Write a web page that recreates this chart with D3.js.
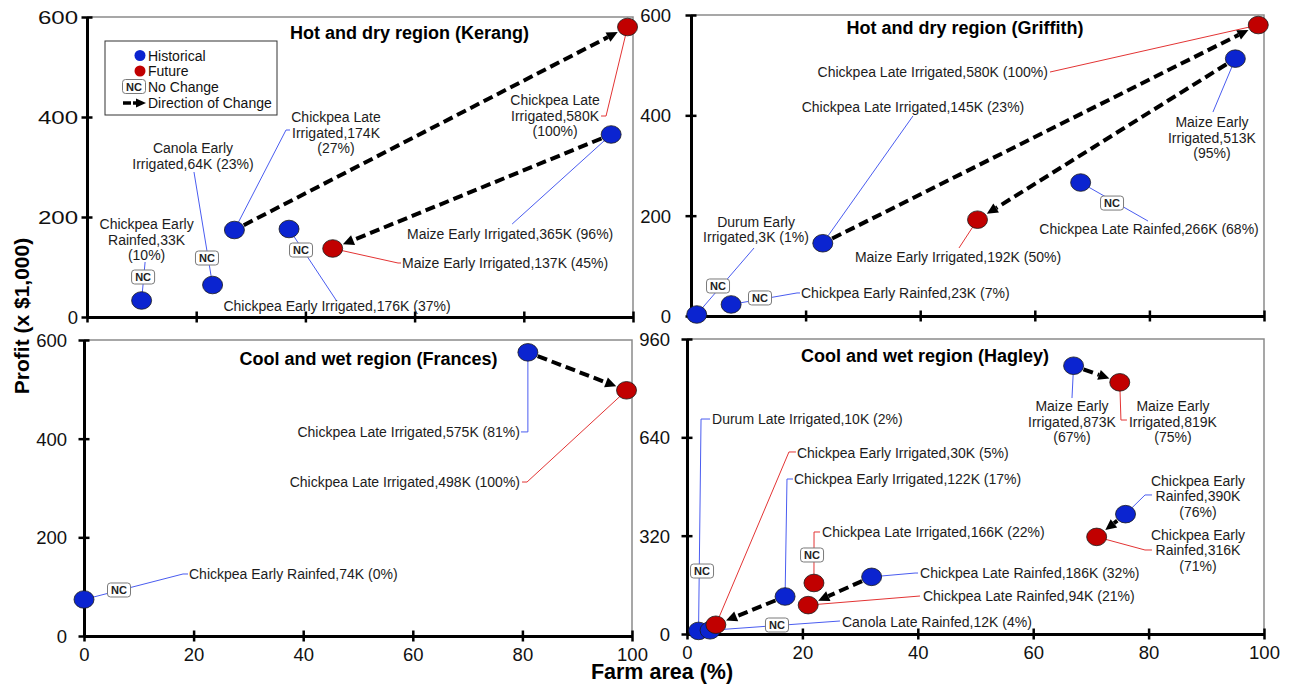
<!DOCTYPE html>
<html><head><meta charset="utf-8">
<script src="https://cdn.jsdelivr.net/npm/d3@7"></script>
<style>
body{margin:0;background:#fff}
svg{display:block}
text{font-family:"Liberation Sans",Arial,Helvetica,sans-serif}
</style>
</head><body>
<svg id="chart" width="1295" height="685"></svg>
<script>
// ---------- data ----------
const xTicks = [0, 20, 40, 60, 80, 100];
const yTicks600 = [0, 200, 400, 600];
const yTicks960 = [0, 320, 640, 960];
const titles = ["Hot and dry region (Kerang)", "Hot and dry region (Griffith)",
                "Cool and wet region (Frances)", "Cool and wet region (Hagley)"];
const legendItems = ["Historical", "Future", "No Change", "Direction of Change"];
const axisTitles = ["Farm area (%)", "Profit (x $1,000)"];

// profit in $1,000 (K), area in % of farm; plotArea = where the marker sits when it differs
const kerang = [
  {crop:"Chickpea Early Rainfed",  profit:33,  area:10, period:"Historical", nc:true},
  {crop:"Canola Early Irrigated",  profit:64,  area:23, period:"Historical", nc:true},
  {crop:"Chickpea Late Irrigated", profit:174, area:27, period:"Historical"},
  {crop:"Chickpea Early Irrigated",profit:176, area:37, period:"Historical", nc:true},
  {crop:"Maize Early Irrigated",   profit:137, area:45, period:"Future"},
  {crop:"Maize Early Irrigated",   profit:365, area:96, period:"Historical"},
  {crop:"Chickpea Late Irrigated", profit:580, area:100, plotArea:99, period:"Future"}
];
const kerangArrows = [[2,6],[5,4]];

const griffith = [
  {crop:"Durum Early Irrigated",   profit:3,   area:1,  period:"Historical", nc:true},
  {crop:"Chickpea Early Rainfed",  profit:23,  area:7,  period:"Historical", nc:true},
  {crop:"Chickpea Late Irrigated", profit:145, area:23, period:"Historical"},
  {crop:"Chickpea Late Irrigated", profit:580, area:100, plotArea:99, period:"Future"},
  {crop:"Maize Early Irrigated",   profit:513, area:95, period:"Historical"},
  {crop:"Maize Early Irrigated",   profit:192, area:50, period:"Future"},
  {crop:"Chickpea Late Rainfed",   profit:266, area:68, period:"Historical", nc:true}
];
const griffithArrows = [[2,3],[4,5]];

const frances = [
  {crop:"Chickpea Early Rainfed",  profit:74,  area:0,  period:"Historical", nc:true},
  {crop:"Chickpea Late Irrigated", profit:575, area:81, period:"Historical"},
  {crop:"Chickpea Late Irrigated", profit:498, area:100, plotArea:99, period:"Future"}
];
const francesArrows = [[1,2]];

const hagley = [
  {crop:"Durum Late Irrigated",    profit:10,  area:2,  period:"Historical", nc:true},
  {crop:"Canola Late Rainfed",     profit:12,  area:4,  period:"Historical", nc:true},
  {crop:"Chickpea Early Irrigated",profit:30,  area:5,  period:"Future"},
  {crop:"Chickpea Early Irrigated",profit:122, area:17, period:"Historical"},
  {crop:"Chickpea Late Irrigated", profit:166, area:22, period:"Future", nc:true},
  {crop:"Chickpea Late Rainfed",   profit:186, area:32, period:"Historical"},
  {crop:"Chickpea Late Rainfed",   profit:94,  area:21, period:"Future"},
  {crop:"Maize Early Irrigated",   profit:873, area:67, period:"Historical"},
  {crop:"Maize Early Irrigated",   profit:819, area:75, period:"Future"},
  {crop:"Chickpea Early Rainfed",  profit:390, area:76, period:"Historical"},
  {crop:"Chickpea Early Rainfed",  profit:316, area:71, period:"Future"}
];
const hagleyArrows = [[3,2],[5,6],[7,8],[9,10]];

// ---------- layout (pixel offsets of annotations relative to their marker) ----------
const kerangLayout = [
  {lines:3, anchor:"middle", at:[5,-71.5],   lead:[[3.5,-38.5]], nc:[1.5,-23.5]},
  {lines:2, anchor:"middle", at:[-19.6,-132],lead:[[-18.6,-113]], nc:[-5.6,-27]},
  {lines:3, anchor:"middle", at:[101.6,-108],lead:[[51.6,-100],[55.6,-100]]},
  {lines:1, anchor:"middle", at:[48,82],     lead:[[47,71]], nc:[12,21]},
  {lines:1, anchor:"start",  at:[69.3,19.5], lead:[[65.3,14.5],[68.3,14.5]]},
  {lines:1, anchor:"middle", at:[-101,104.5],lead:[[-99,89.5]]},
  {lines:3, anchor:"middle", at:[-72.5,78],  lead:[[-21.5,89],[-26.5,89]]}
];
const griffithLayout = [
  {lines:2, anchor:"middle", at:[59.3,-87.5], lead:[[57.3,-66.5]], nc:[21.3,-28.5]},
  {lines:1, anchor:"start",  at:[69.9,-6.5],  lead:[[65.9,-11.5],[68.9,-11.5]], nc:[28.9,-6.5]},
  {lines:1, anchor:"middle", at:[90.2,-131.3],lead:[[90.2,-127.3]]},
  {lines:1, anchor:"end",    at:[-210.3,52],  lead:[[-208.3,47]]},
  {lines:3, anchor:"middle", at:[-23.4,68.4], lead:[[-22.4,53.4]]},
  {lines:1, anchor:"middle", at:[-19.5,42.3], lead:[[-18.5,28.3]]},
  {lines:1, anchor:"middle", at:[68.4,51.5],  lead:[[67.4,38.5]], nc:[31.4,20.5]}
];
const francesLayout = [
  {lines:1, anchor:"start", at:[105,-20.5],  lead:[[99,-25.5],[104,-25.5]], nc:[35,-9.5]},
  {lines:1, anchor:"end",   at:[-7.9,84.6],  lead:[[0,79.6],[-6.9,79.6]]},
  {lines:1, anchor:"end",   at:[-106.5,96.7],lead:[[-99.5,91.7],[-104.5,91.7]]}
];
const hagleyLayout = [
  {lines:1, anchor:"start",  at:[13.5,-206.9], lead:[[2.5,-211.9],[11.5,-211.9]], nc:[3.5,-59.9]},
  {lines:1, anchor:"start",  at:[131.9,-3.3],  lead:[[129.9,-9.3]], nc:[66.9,-5.3]},
  {lines:1, anchor:"start",  at:[81.1,-166.8], lead:[[73.1,-172.8],[80.1,-172.8]]},
  {lines:1, anchor:"start",  at:[8.9,-112.5],  lead:[[1.9,-117.5],[7.9,-117.5]]},
  {lines:1, anchor:"start",  at:[8.1,-46],     lead:[[0.1,-51],[6.1,-51]], nc:[-1.9,-28]},
  {lines:1, anchor:"start",  at:[48.4,1.2],    lead:[[43.4,-3.8],[46.4,-3.8]]},
  {lines:1, anchor:"start",  at:[114.8,-4.1],  lead:[[111.8,-9.1]]},
  {lines:3, anchor:"middle", at:[-1.6,45.3],   lead:[[-1.6,32.3]]},
  {lines:3, anchor:"middle", at:[53.2,28.7],   lead:[[1.2,37.7],[7.2,37.7]]},
  {lines:3, anchor:"middle", at:[72.5,-28.2],  lead:[[19.5,-19.2],[26.5,-19.2]]},
  {lines:3, anchor:"middle", at:[101.3,3.1],   lead:[[48.3,13.1],[55.3,13.1]]}
];

const frames = [
  {l:87,  r:633,  t:17,  b:317, ymax:600, yt:yTicks600, xlab:false, gap:9,  stretch:1.3, title:[409.5,39]},
  {l:691, r:1264, t:15,  b:316, ymax:600, yt:yTicks600, xlab:false, gap:20, title:[965,34]},
  {l:84,  r:632,  t:340, b:636, ymax:600, yt:yTicks600, xlab:true,  gap:17, title:[368.5,365]},
  {l:687, r:1264, t:339, b:634, ymax:960, yt:yTicks960, xlab:true,  gap:17, title:[925,362]}
];

const COLORS = {Historical:"#0b24d0", Future:"#c10000"};
const LEAD = {Historical:"#4a5cf0", Future:"#e33434"};

const svg = d3.select("#chart");

function labelLines(d, n){
  const w = d.crop.split(" ");
  const head = w.slice(0,2).join(" "), tail = w.slice(2).join(" ");
  if (n === 1) return [`${d.crop},${d.profit}K (${d.area}%)`];
  if (n === 2) return [head, `${tail},${d.profit}K (${d.area}%)`];
  return [head, `${tail},${d.profit}K`, `(${d.area}%)`];
}

function ncBox(g, cx, cy){
  const b = g.append("g").attr("transform",`translate(${cx},${cy})`);
  b.append("rect").attr("x",-11.5).attr("y",-7).attr("width",23).attr("height",14).attr("rx",3)
    .attr("fill","#fff").attr("stroke","#7a7a7a").attr("stroke-width",1);
  b.append("text").attr("text-anchor","middle").attr("y",4).attr("font-size",11)
    .attr("font-weight","bold").attr("fill","#222").text("NC");
}

function arrow(g, x1, y1, x2, y2, r1, r2, head){
  const dx = x2-x1, dy = y2-y1, L = Math.hypot(dx,dy), ux = dx/L, uy = dy/L;
  const sx = x1+ux*r1, sy = y1+uy*r1;
  const tx = x2-ux*r2, ty = y2-uy*r2;
  const bx = tx-ux*head, by = ty-uy*head;
  if ((bx-sx)*ux + (by-sy)*uy > 0)
    g.append("line").attr("x1",sx).attr("y1",sy).attr("x2",bx).attr("y2",by)
      .attr("stroke","#000").attr("stroke-width",4).attr("stroke-dasharray","10,5");
  const px = -uy, py = ux, w = head*0.48;
  g.append("path").attr("d",`M${tx},${ty}L${bx+px*w},${by+py*w}L${bx-px*w},${by-py*w}Z`).attr("fill","#000");
}

function drawPanel(i, data, layout, arrows){
  const f = frames[i];
  const x = d3.scaleLinear().domain([0,100]).range([f.l,f.r]);
  const y = d3.scaleLinear().domain([0,f.ymax]).range([f.b,f.t]);
  const g = svg.append("g");

  g.append("path").attr("d",`M${f.l},${f.t}H${f.r}V${f.b}`)
    .attr("fill","none").attr("stroke","#8a8a8a").attr("stroke-width",1.5);

  const xa = g.append("g").attr("transform",`translate(0,${f.b})`)
    .call(d3.axisBottom(x).tickValues(xTicks).tickSize(0).tickFormat(f.xlab ? d3.format("d") : () => ""));
  xa.select(".domain").attr("stroke","#000").attr("stroke-width",3);
  xa.selectAll(".tick line").attr("y1",-5.5).attr("y2",5.5).attr("stroke","#000").attr("stroke-width",2.5);
  xa.selectAll(".tick text").attr("y",11.5).attr("dy","0.71em").attr("font-size",18.5).attr("fill","#111");

  const ya = g.append("g").attr("transform",`translate(${f.l},0)`)
    .call(d3.axisLeft(y).tickValues(f.yt).tickSize(0).tickFormat(d3.format("d")));
  ya.select(".domain").attr("stroke","#000").attr("stroke-width",3);
  ya.selectAll(".tick line").attr("x1",-5.5).attr("x2",5.5).attr("stroke","#000").attr("stroke-width",2.5);
  ya.selectAll(".tick text").attr("x",-f.gap).attr("dy","0.35em").attr("font-size",18.5).attr("fill","#111");
  if (f.stretch) {
    ya.selectAll(".tick text").filter(function(){ return this.textContent.length > 1; })
      .attr("textLength", function(){ return this.getComputedTextLength()*f.stretch; })
      .attr("lengthAdjust","spacingAndGlyphs");
  }

  g.append("text").attr("x",f.title[0]).attr("y",f.title[1]).attr("text-anchor","middle")
    .attr("font-size",18).attr("font-weight","bold").attr("fill","#000").text(titles[i]);

  const pos = d => [x(d.plotArea ?? d.area), y(d.profit)];

  // leader lines
  data.forEach((d,j) => {
    const [px,py] = pos(d), L = layout[j];
    const pts = [[px,py], ...L.lead.map(o => [px+o[0], py+o[1]])];
    g.append("path").attr("d", d3.line()(pts)).attr("fill","none")
      .attr("stroke", LEAD[d.period]).attr("stroke-width",1);
  });
  // arrows
  arrows.forEach(([a,b]) => {
    const [x1,y1] = pos(data[a]), [x2,y2] = pos(data[b]);
    arrow(g, x1, y1, x2, y2, 10.5, 11, 11);
  });
  // markers
  g.selectAll("ellipse.pt").data(data).join("ellipse").attr("class","pt")
    .attr("cx", d => pos(d)[0]).attr("cy", d => pos(d)[1])
    .attr("rx",10).attr("ry",8.8)
    .attr("fill", d => COLORS[d.period]).attr("stroke","#1a1a1a").attr("stroke-width",0.8);
  // NC boxes and labels
  data.forEach((d,j) => {
    const [px,py] = pos(d), L = layout[j];
    if (d.nc) ncBox(g, px+L.nc[0], py+L.nc[1]);
    const t = g.append("text").attr("text-anchor",L.anchor).attr("font-size",14).attr("fill","#1c1c1c");
    labelLines(d, L.lines).forEach((s,k) => {
      t.append("tspan").attr("x",px+L.at[0]).attr("y",py+L.at[1]+k*15.5).text(s);
    });
  });
}

drawPanel(0, kerang, kerangLayout, kerangArrows);
drawPanel(1, griffith, griffithLayout, griffithArrows);
drawPanel(2, frances, francesLayout, francesArrows);
drawPanel(3, hagley, hagleyLayout, hagleyArrows);

// legend
const lg = svg.append("g");
lg.append("rect").attr("x",105).attr("y",41).attr("width",172).attr("height",74)
  .attr("fill","#fff").attr("stroke","#333").attr("stroke-width",1);
lg.append("circle").attr("cx",140).attr("cy",55.5).attr("r",5.5).attr("fill",COLORS.Historical);
lg.append("circle").attr("cx",140).attr("cy",71).attr("r",5.5).attr("fill",COLORS.Future);
ncBox(lg, 134, 86.5);
lg.append("line").attr("x1",123).attr("y1",103).attr("x2",131).attr("y2",103).attr("stroke","#000").attr("stroke-width",3.5);
lg.append("path").attr("d","M146,103L136,98.5L136,107.5Z").attr("fill","#000");
lg.append("line").attr("x1",133).attr("y1",103).attr("x2",137).attr("y2",103).attr("stroke","#000").attr("stroke-width",3.5);
legendItems.forEach((s,k) => {
  lg.append("text").attr("x",148).attr("y",60.5+k*15.8).attr("font-size",14).attr("fill","#111").text(s);
});

// axis titles
svg.append("text").attr("x",662).attr("y",679).attr("text-anchor","middle")
  .attr("font-size",21.5).attr("font-weight","bold").attr("fill","#000").text(axisTitles[0]);
svg.append("text").attr("transform","translate(29,316) rotate(-90)").attr("text-anchor","middle")
  .attr("font-size",21).attr("font-weight","bold").attr("fill","#000").text(axisTitles[1]);
</script>
</body></html>
